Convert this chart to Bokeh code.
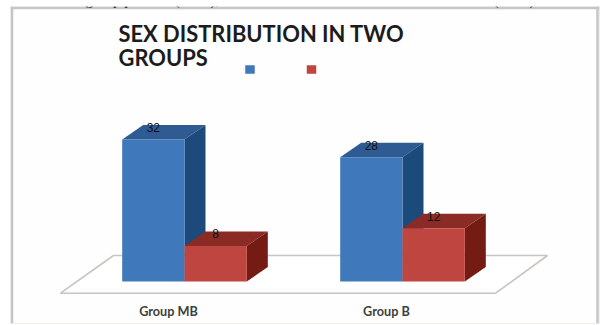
from bokeh.core.properties import value
from bokeh.embed import file_html
from bokeh.models import Label, Range1d, Span
from bokeh.plotting import figure
from bokeh.resources import INLINE

# Chart content
title_lines = ["SEX DISTRIBUTION IN TWO", "GROUPS"]
groups = ["Group MB", "Group B"]
series_a = [32, 28]
series_b = [8, 12]
running_head = [("group patients (n=40),", 85), ("(n=40)", 493)]

# Colours: front, top and side faces of each series
BLUE = ("#3f79bb", "#2d5b92", "#1b4a7b")
RED = ("#bf4540", "#8b2b26", "#741b13")

W, H = 602, 325
FRAME = dict(left=10, right=599, top=6, bottom=323)
PX_PER_GROUP = 218.0
PX_PER_UNIT = 4.44
ORIGIN_X, ORIGIN_Y = 184.0, 281.0  # pixel position of group 0 on the zero line
LABEL_Y_SHIFT = 9  # screen-unit labels sit this much lower than their nominal row


def gx(px):
    return (px - ORIGIN_X) / PX_PER_GROUP


def vy(py):
    return (ORIGIN_Y - py) / PX_PER_UNIT


BAR_W = 62.3 / PX_PER_GROUP
DEPTH_X = 21 / PX_PER_GROUP
DEPTH_Y = 14.5 / PX_PER_UNIT

p = figure(
    width=W, height=H, output_backend="svg", toolbar_location=None,
    x_range=Range1d(gx(FRAME["left"]), gx(FRAME["right"])),
    y_range=Range1d(vy(FRAME["bottom"]), vy(FRAME["top"])),
    min_border_left=FRAME["left"], min_border_right=W - FRAME["right"],
    min_border_top=FRAME["top"], min_border_bottom=H - FRAME["bottom"],
    x_axis_location=None, y_axis_location=None,
)
p.grid.visible = False
p.background_fill_color = "#fefefe"
p.border_fill_color = "#ffffff"
p.outline_line_color = "#f1eee8"
p.outline_line_width = 1

# Grey border on the top, left and right of the chart area
border = dict(line_color="#c6c6c6", line_width=2.5)
p.add_layout(Span(location=vy(7.5), dimension="width", **border))
p.add_layout(Span(location=gx(11.5), dimension="height", **border))
p.add_layout(Span(location=gx(597), dimension="height", **border))

# Floor plane under the bars
p.patch(
    [gx(60), gx(113), gx(547), gx(495)], [vy(292.7), vy(255), vy(255), vy(292.7)],
    fill_color="#ffffff", line_color="#c8c4c0", line_width=1.6,
)


def bar3d(left, height, colors):
    """Front face with a receding top and right side."""
    front, top, side = colors
    right = left + BAR_W
    p.patch([left, left + DEPTH_X, right + DEPTH_X, right],
            [height, height + DEPTH_Y, height + DEPTH_Y, height], color=top, line_width=0)
    p.patch([right, right + DEPTH_X, right + DEPTH_X, right],
            [0, DEPTH_Y, height + DEPTH_Y, height], color=side, line_width=0)
    p.quad(left=left, right=right, bottom=0, top=height, color=front, line_width=0)


for i, (a, b) in enumerate(zip(series_a, series_b)):
    bar3d(i - BAR_W, a, BLUE)
    bar3d(i, b, RED)

# Value labels sit on the top face of each bar
label_y = 12 / PX_PER_UNIT
xs = [i - BAR_W / 2 for i in range(2)] + [i + BAR_W / 2 for i in range(2)]
ys = series_a + series_b
p.text(xs, [v + label_y for v in ys], text=[str(v) for v in ys],
       text_font=value("Liberation Sans"), text_font_size="12px", text_color="#111111",
       text_align="center", text_baseline="middle")

# Category labels below the floor
p.text([i - 16 / PX_PER_GROUP for i in range(2)], [vy(310.7)] * 2, text=groups,
       text_font=value("Lato"), text_font_style="bold", text_font_size="12.7px",
       text_color="#404040", text_align="center", text_baseline="middle")

# Legend keys
p.rect([gx(249.5), gx(311)], [vy(69), vy(69)], width=9.5 / PX_PER_GROUP,
       height=8.5 / PX_PER_UNIT, color=[BLUE[0], RED[0]], line_width=0)

# Title; label positions count from the chart area's lower left corner
for line, baseline in zip(title_lines, [42, 66]):
    p.add_layout(Label(x=118 - FRAME["left"], y=FRAME["bottom"] - baseline + LABEL_Y_SHIFT,
                       x_units="screen", y_units="screen",
                       text=line, text_font="Lato", text_font_style="bold",
                       text_font_size="21.9px", text_color="#1c1c1c",
                       text_baseline="alphabetic"))

# Line of body text running off the top edge of the page
for text, x in running_head:
    p.add_layout(Label(x=x - FRAME["left"], y=FRAME["bottom"] + 0.5,
                       x_units="screen", y_units="screen", text=text,
                       text_font="Liberation Serif", text_font_size="15px",
                       text_color="#222222", text_baseline="alphabetic"))

open("out.html", "w").write(file_html(p, INLINE))
